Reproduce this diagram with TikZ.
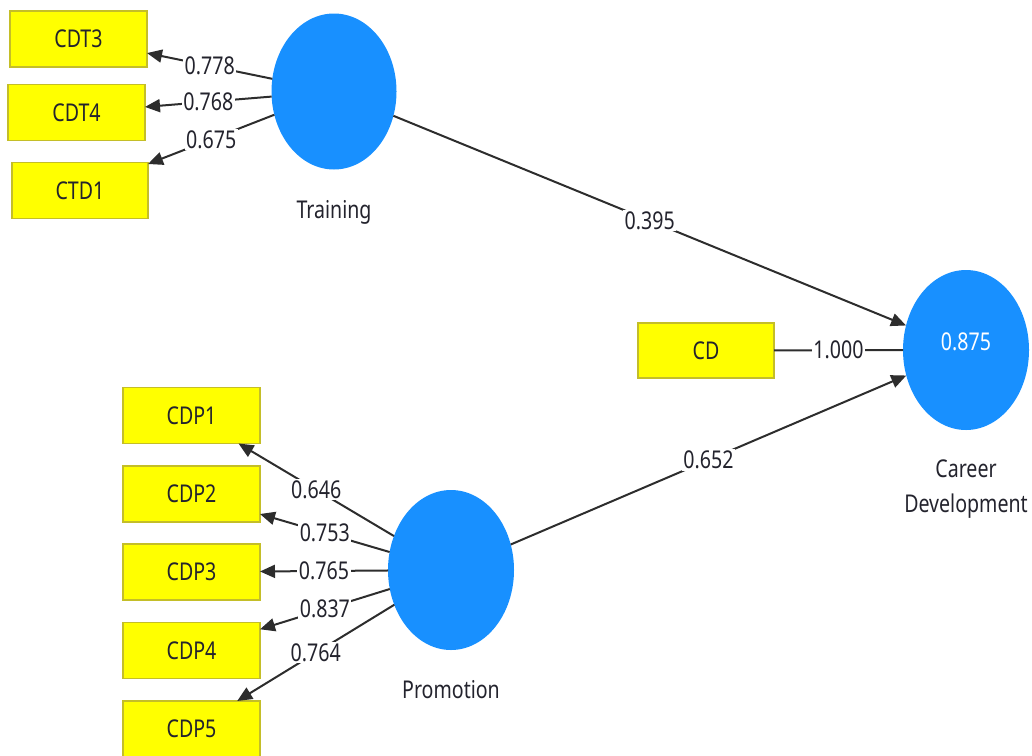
\documentclass[tikz,border=0pt]{standalone}
\usepackage{fontspec}
\setmainfont{Noto Sans}[FakeStretch=0.8]
\usetikzlibrary{shapes.geometric,arrows.meta}
\definecolor{indyellow}{RGB}{255,255,0}
\definecolor{indborder}{RGB}{196,190,40}
\definecolor{latblue}{RGB}{24,144,255}
\definecolor{inktext}{RGB}{35,35,45}
\definecolor{pathline}{RGB}{45,45,45}
\tikzset{
  indicator/.style={draw=indborder, line width=1.2pt, fill=indyellow, rectangle,
    minimum width=137pt, minimum height=56pt, inner sep=0pt, outer sep=0pt,
    text=inktext, font=\fontsize{24.5}{27}\selectfont},
  latent/.style={ellipse, fill=latblue, draw=none, minimum width=125pt,
    minimum height=156pt, inner sep=0pt, outer sep=0pt,
    text=white, font=\fontsize{24.5}{27}\selectfont},
  caption/.style={text=inktext, font=\fontsize{24.5}{35}\selectfont, align=center},
  weight/.style={fill=white, inner sep=1.5pt, text=inktext,
    font=\fontsize{24.5}{27}\selectfont},
  loading/.style={draw=pathline, line width=2pt,
    -{Triangle[length=15pt,width=13pt]}},
  plain/.style={draw=pathline, line width=2pt}
}
\begin{document}
\begin{tikzpicture}[x=1pt,y=-1pt]
\useasboundingbox (0,0) rectangle (1032,755);
\begin{scope}
\clip (0,0) rectangle (1032,755);

% latent variables
\node[latent] (train) at (334,91.5) {};
\node[latent, minimum width=126pt, minimum height=160pt] (promo) at (451,570) {};
\node[latent, minimum width=126pt, minimum height=160pt] (cdev) at (966,350) {};
\node at (966,342) [text=white, font=\fontsize{24.5}{27}\selectfont] (r2) {0.875};

\node[caption] (trainlbl) at (334,212) {Training};
\node[caption] (promolbl) at (451,690) {Promotion};
\node[caption] (cdevlbl) at (966,489) {Career\\Development};

% indicators of Training
\node[indicator] (cdt3) at (78.5,39) {CDT3};
\node[indicator] (cdt4) at (76.5,112.5) {CDT4};
\node[indicator, minimum width=136pt] (ctd1) at (80,190.5) {CTD1};

% indicator of Career Development
\node[indicator, minimum width=136pt, minimum height=55pt] (cd) at (706,350.5) {CD};

% indicators of Promotion
\node[indicator] (cdp1) at (191.5,415.5) {CDP1};
\node[indicator] (cdp2) at (191.5,494) {CDP2};
\node[indicator] (cdp3) at (191.5,572) {CDP3};
\node[indicator] (cdp4) at (191.5,650.5) {CDP4};
\node[indicator] (cdp5) at (191.5,729) {CDP5};

% outer loadings
\draw[loading] (train) -- node[weight] {0.778} (cdt3);
\draw[loading] (train) -- node[weight] {0.768} (cdt4);
\draw[loading] (train) -- node[weight] {0.675} (ctd1);

\draw[loading] (promo) -- node[weight] {0.646} (cdp1);
\draw[loading] (promo) -- node[weight] {0.753} (cdp2);
\draw[loading] (promo) -- node[weight] {0.765} (cdp3);
\draw[loading] (promo) -- node[weight] {0.837} (cdp4);
\draw[loading] (promo) -- node[weight] {0.764} (cdp5);

\draw[plain] (cd) -- node[weight] {1.000} (cdev);

% path coefficients
\draw[loading] (train) -- node[weight] {0.395} (cdev);
\draw[loading] (promo) -- node[weight] {0.652} (cdev);
\end{scope}
\end{tikzpicture}
\end{document}
